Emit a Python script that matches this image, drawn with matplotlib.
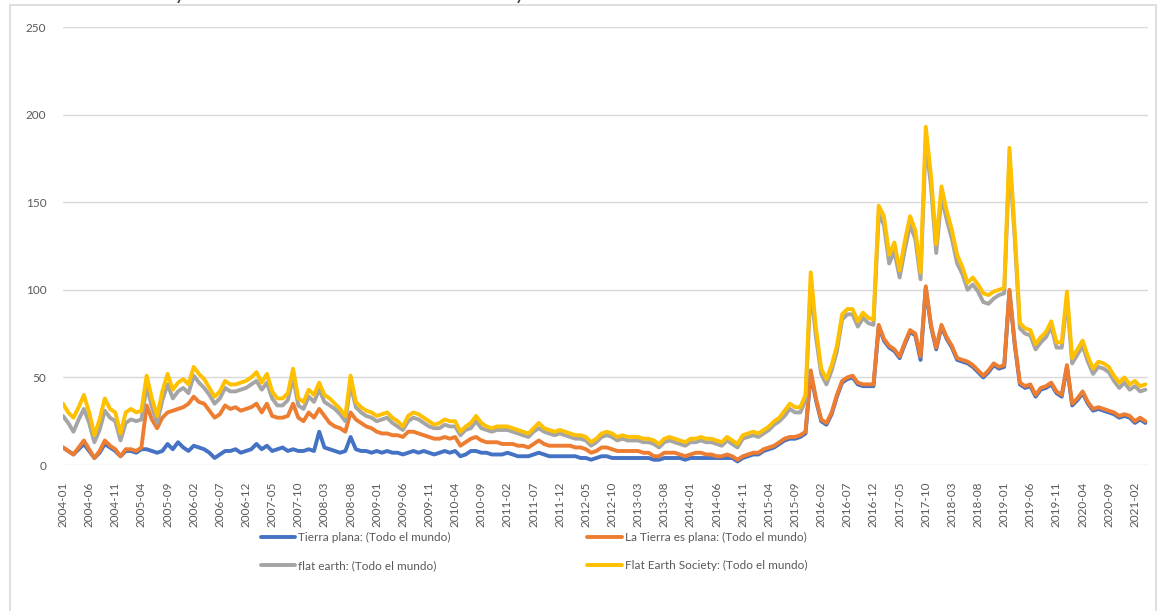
import numpy as np
import pandas as pd
import matplotlib
matplotlib.use('Agg')
import matplotlib.pyplot as plt
from matplotlib.patches import Rectangle

# Google Trends, interés mensual (Todo el mundo), 2004-01 .. 2021-04
tierra_plana = [
    10, 8, 6, 9, 12, 8, 4, 7, 12, 10,
    8, 5, 8, 8, 7, 9, 9, 8, 7, 8,
    12, 9, 13, 10, 8, 11, 10, 9, 7, 4,
    6, 8, 8, 9, 7, 8, 9, 12, 9, 11,
    8, 9, 10, 8, 9, 8, 8, 9, 8, 19,
    10, 9, 8, 7, 8, 16, 9, 8, 8, 7,
    8, 7, 8, 7, 7, 6, 7, 8, 7, 8,
    7, 6, 7, 8, 7, 8, 5, 6, 8, 8,
    7, 7, 6, 6, 6, 7, 6, 5, 5, 5,
    6, 7, 6, 5, 5, 5, 5, 5, 5, 4,
    4, 3, 4, 5, 5, 4, 4, 4, 4, 4,
    4, 4, 4, 3, 3, 4, 4, 4, 4, 3,
    4, 4, 4, 4, 4, 4, 4, 4, 4, 2,
    4, 5, 6, 6, 8, 9, 10, 12, 14, 15,
    15, 16, 18, 52, 37, 25, 23, 29, 39, 47,
    49, 50, 46, 45, 45, 45, 79, 71, 67, 65,
    61, 69, 76, 74, 60, 101, 79, 66, 79, 72,
    67, 60, 59, 58, 56, 53, 50, 53, 57, 55,
    56, 99, 69, 46, 44, 45, 39, 43, 44, 46,
    41, 39, 56, 34, 37, 41, 35, 31, 32, 31,
    30, 29, 27, 28, 27, 24, 26, 24,
]
la_tierra_es_plana = [
    0, 0, 0, 1, 2, 1, 0, 1, 2, 1,
    1, 0, 1, 1, 1, 1, 25, 18, 14, 19,
    18, 22, 19, 23, 27, 28, 26, 26, 24, 23,
    23, 26, 24, 24, 24, 24, 24, 23, 21, 24,
    20, 18, 17, 20, 26, 19, 17, 21, 19, 13,
    18, 15, 14, 14, 11, 14, 17, 16, 14, 14,
    11, 11, 10, 10, 10, 10, 12, 11, 11, 9,
    9, 9, 8, 8, 8, 8, 6, 7, 7, 8,
    7, 6, 7, 7, 6, 5, 6, 6, 6, 5,
    6, 7, 6, 6, 6, 6, 6, 6, 5, 6,
    5, 4, 4, 5, 5, 5, 4, 4, 4, 4,
    4, 3, 3, 2, 2, 3, 3, 3, 2, 2,
    2, 3, 3, 2, 2, 1, 1, 2, 1, 1,
    1, 1, 1, 1, 1, 1, 1, 1, 1, 1,
    1, 1, 1, 2, 1, 1, 1, 1, 1, 1,
    1, 1, 1, 1, 1, 1, 1, 1, 1, 1,
    1, 1, 1, 1, 2, 1, 1, 1, 1, 1,
    1, 1, 1, 1, 1, 1, 1, 1, 1, 1,
    1, 1, 1, 1, 1, 1, 1, 1, 1, 1,
    1, 1, 1, 1, 1, 1, 1, 1, 1, 1,
    1, 1, 1, 1, 1, 1, 1, 1,
]
flat_earth = [
    18, 16, 13, 16, 18, 15, 9, 12, 17, 16,
    16, 9, 15, 17, 17, 16, 11, 7, 3, 10,
    16, 7, 10, 11, 6, 12, 11, 9, 9, 8,
    9, 10, 10, 9, 12, 12, 13, 13, 13, 12,
    10, 7, 7, 9, 15, 7, 7, 9, 9, 11,
    8, 10, 10, 8, 6, 16, 7, 6, 6, 6,
    6, 8, 9, 7, 5, 4, 6, 8, 8, 7,
    6, 6, 6, 7, 7, 6, 6, 7, 6, 9,
    7, 7, 6, 7, 8, 8, 7, 7, 6, 6,
    7, 7, 7, 7, 6, 7, 6, 5, 5, 5,
    5, 4, 5, 6, 7, 7, 6, 7, 6, 6,
    6, 6, 6, 7, 5, 6, 7, 6, 6, 6,
    7, 6, 7, 7, 7, 7, 6, 8, 7, 7,
    10, 10, 10, 9, 9, 10, 12, 12, 13, 16,
    14, 13, 18, 48, 35, 26, 22, 24, 25, 35,
    36, 35, 32, 38, 35, 34, 63, 65, 47, 56,
    45, 53, 60, 54, 44, 83, 79, 54, 73, 67,
    61, 54, 49, 41, 46, 45, 42, 38, 37, 41,
    41, 75, 60, 31, 30, 28, 26, 26, 28, 32,
    25, 27, 38, 23, 25, 26, 23, 20, 23, 23,
    22, 18, 16, 18, 15, 20, 15, 18,
]
flat_earth_society = [
    7, 6, 8, 7, 8, 6, 4, 6, 7, 5,
    5, 4, 6, 6, 5, 5, 6, 5, 4, 5,
    6, 5, 5, 5, 5, 5, 5, 5, 4, 4,
    4, 4, 4, 4, 4, 4, 4, 5, 4, 5,
    4, 4, 4, 4, 5, 4, 4, 4, 4, 4,
    4, 4, 3, 3, 3, 5, 3, 3, 3, 3,
    3, 3, 3, 3, 3, 2, 3, 3, 3, 3,
    3, 2, 3, 3, 3, 3, 2, 2, 3, 3,
    3, 2, 2, 2, 2, 2, 2, 2, 2, 2,
    2, 3, 2, 2, 2, 2, 2, 2, 2, 2,
    2, 2, 2, 2, 2, 2, 2, 2, 2, 2,
    2, 2, 2, 2, 2, 2, 2, 2, 2, 2,
    2, 2, 2, 2, 2, 2, 2, 2, 2, 2,
    2, 2, 2, 2, 2, 2, 2, 2, 3, 3,
    3, 3, 3, 8, 5, 3, 3, 3, 3, 3,
    3, 3, 3, 3, 3, 3, 5, 5, 5, 5,
    4, 5, 5, 5, 4, 8, 6, 5, 6, 5,
    5, 5, 4, 4, 4, 4, 5, 5, 4, 3,
    3, 6, 4, 3, 3, 3, 3, 3, 3, 3,
    3, 3, 4, 3, 3, 3, 3, 3, 3, 3,
    3, 3, 3, 3, 3, 3, 3, 3,
]

series_names = [
    'Tierra plana: (Todo el mundo)',
    'La Tierra es plana: (Todo el mundo)',
    'flat earth: (Todo el mundo)',
    'Flat Earth Society: (Todo el mundo)',
]
colors = ['#4472C4', '#ED7D31', '#A5A5A5', '#FFC000']

n = len(tierra_plana)
months = pd.date_range('2004-01-01', periods=n, freq='MS').strftime('%Y-%m')
x = np.arange(n)

# lineas apiladas (cada serie se suma a las anteriores)
stacked = np.cumsum(np.array([tierra_plana, la_tierra_es_plana,
                              flat_earth, flat_earth_society], dtype=float), axis=0)

W, H = 1157, 611
fig = plt.figure(figsize=(W / 100, H / 100), dpi=100)
plt.rcParams['font.family'] = ['Lato', 'DejaVu Sans']

# marco del area del grafico
fig.patches.append(Rectangle((10 / W, -0.01), (W - 11) / W, 1 - 5 / H + 0.01,
                             transform=fig.transFigure, fill=False,
                             edgecolor='#d9d9d9', lw=1.2))

# restos del texto de arriba
for tx in (180, 520):
    fig.text(tx / W, 1 + 1 / H, 'y', fontsize=15, style='italic',
             color='#3a3528', va='baseline', ha='center')

ax = fig.add_axes([63 / W, (H - 465) / H, (1148 - 63) / W, (465 - 27) / H])

lines = []
for k in range(4):
    ln, = ax.plot(x, stacked[k], color=colors[k], lw=2.8,
                  solid_joinstyle='round', solid_capstyle='round',
                  label=series_names[k], zorder=3 + k)
    lines.append(ln)

ax.set_xlim(0, n - 1 + 0.5)
ax.set_ylim(0, 250)
ax.set_yticks(np.arange(0, 251, 50))
ax.grid(axis='y', color='#d9d9d9', lw=1)
ax.set_axisbelow(True)
for s in ax.spines.values():
    s.set_visible(False)

ax.set_xticks(x[::5])
ax.set_xticklabels(months[::5], rotation=90, fontsize=8.5, color='#595959')
ax.tick_params(axis='x', length=0, pad=12)
ax.tick_params(axis='y', length=0, pad=12, labelsize=8.5, labelcolor='#595959')

order = [0, 2, 1, 3]
fig.legend([lines[k] for k in order], [series_names[k] for k in order],
           ncol=2, loc='center', bbox_to_anchor=(534 / W, (H - 551.5) / H),
           frameon=False, fontsize=8.5, labelcolor='#595959',
           handlelength=2.9, handletextpad=0.25, columnspacing=11.6,
           labelspacing=1.45)

fig.savefig('out.png', dpi=100)
